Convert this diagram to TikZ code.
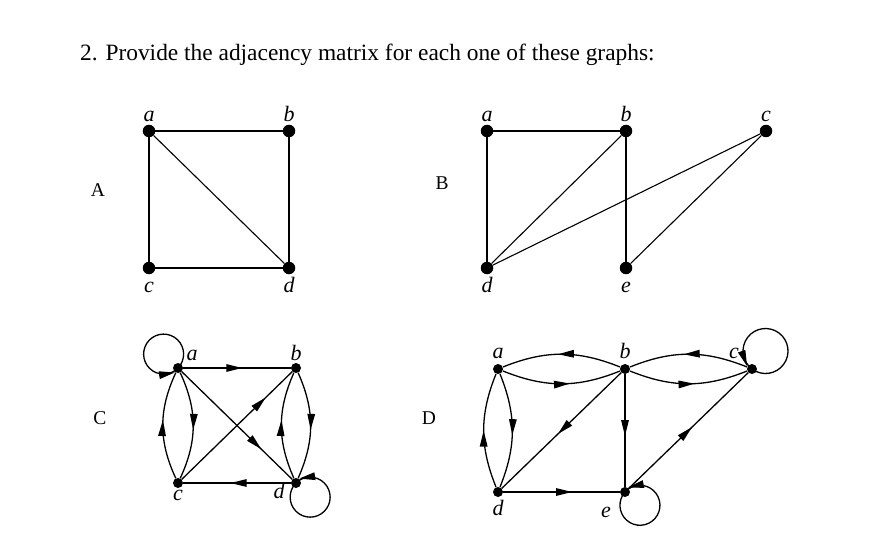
\documentclass[tikz,border=0pt]{standalone}
\usepackage{fontspec}
\setmainfont{Liberation Serif}
\usetikzlibrary{arrows.meta,decorations.markings}
\begin{document}
\begin{tikzpicture}[x=1pt,y=1pt,
 dot/.style={circle,fill=black,inner sep=0pt,minimum size=12.5pt},
 sdot/.style={circle,fill=black,inner sep=0pt,minimum size=10pt},
 lbl/.style={font=\fontsize{22}{22}\selectfont\itshape,anchor=base,inner sep=0pt},
 gname/.style={font=\fontsize{19.5}{20}\selectfont,inner sep=0pt},
 edgeA/.style={line width=1.1pt},
 edgeC/.style={line width=1.3pt},
 arr/.style={postaction={decorate,decoration={markings,mark=at position #1 with {\arrow{Triangle[length=16pt,width=7.5pt]}}}}},
 larr/.style={postaction={decorate,decoration={markings,mark=at position #1 with {\pgftransformxshift{8pt}\arrow{Triangle[length=16pt,width=7.5pt]}}}}},
]
\fill[white] (0,0) rectangle (885,555);
\useasboundingbox (0,0) rectangle (885,555);

\node[anchor=base west,font=\fontsize{23.4}{24}\selectfont,inner sep=0pt] (title) at (80,494) {2. Provide the adjacency matrix for each one of these graphs:};

% graph names
\node[gname] (nA) at (98,365) {A};
\node[gname] (nB) at (442,371.5) {B};
\node[gname] (nC) at (100,137) {C};
\node[gname] (nD) at (429,137) {D};

% Graph A
\node[dot] (Aa) at (149,424) {};
\node[dot] (Ab) at (289,424) {};
\node[dot] (Ac) at (149,287) {};
\node[dot] (Ad) at (289,287) {};
\node[lbl] (Ala) at (149,433) {a};
\node[lbl] (Alb) at (289,433) {b};
\node[lbl] (Alc) at (149,263) {c};
\node[lbl] (Ald) at (289,263) {d};
\draw[edgeA] (Aa) -- (Ab);
\draw[edgeA] (Aa) -- (Ac);
\draw[edgeA] (Aa) -- (Ad);
\draw[edgeA] (Ab) -- (Ad);
\draw[edgeA] (Ac) -- (Ad);

% Graph B
\node[dot] (Ba) at (487,424) {};
\node[dot] (Bb) at (626,424) {};
\node[dot] (Bc) at (766,424) {};
\node[dot] (Bd) at (487,287) {};
\node[dot] (Be) at (626,287) {};
\node[lbl] (Bla) at (487,433) {a};
\node[lbl] (Blb) at (626,433) {b};
\node[lbl] (Blc) at (766,433) {c};
\node[lbl] (Bld) at (487,263) {d};
\node[lbl] (Ble) at (626,263) {e};
\draw[edgeA] (Ba) -- (Bb);
\draw[edgeA] (Ba) -- (Bd);
\draw[edgeA] (Bb) -- (Bd);
\draw[edgeA] (Bb) -- (Be);
\draw[edgeA] (Bc) -- (Bd);
\draw[edgeA] (Bc) -- (Be);

% Graph C
\node[sdot] (Ca) at (178,187) {};
\node[sdot] (Cb) at (296,187) {};
\node[sdot] (Cc) at (178,72) {};
\node[sdot] (Cd) at (296,72) {};
\node[lbl] (Cla) at (192,195) {a};
\node[lbl] (Clb) at (296,195) {b};
\node[lbl] (Clc) at (178,55) {c};
\node[lbl] (Cld) at (279,57) {d};
\draw[edgeC,arr=0.55] (Ca) -- (Cb);
\draw[edgeC,arr=0.72] (Ca) -- (Cd);
\draw[edgeC,arr=0.76] (Cc) -- (Cb);
\draw[edgeC,arr=0.56] (Cd) -- (Cc);
\draw[edgeC,arr=0.54] (Ca) to[bend left=25] (Cc);
\draw[edgeC,arr=0.55] (Cc) to[bend left=25] (Ca);
\draw[edgeC,arr=0.54] (Cb) to[bend left=24] (Cd);
\draw[edgeC,arr=0.55] (Cd) to[bend left=24] (Cb);
\draw[edgeC,larr=-12.6pt] (Ca) arc[start angle=-44,end angle=316,radius=20];
\draw[edgeC,larr=-12.6pt] (Cd) arc[start angle=135,end angle=495,radius=20];

% Graph D
\node[sdot] (Da) at (498,186) {};
\node[sdot] (Db) at (625,186) {};
\node[sdot] (Dc) at (752,186) {};
\node[sdot] (Dd) at (498,63) {};
\node[sdot] (De) at (625,63) {};
\node[lbl] (Dla) at (498,197) {a};
\node[lbl] (Dlb) at (625,197) {b};
\node[lbl] (Dlc) at (734,197) {c};
\node[lbl] (Dld) at (498,40) {d};
\node[lbl] (Dle) at (606,38) {e};
\draw[edgeC,arr=0.53] (Db) to[bend right=22] (Da);
\draw[edgeC,arr=0.57] (Da) to[bend right=22] (Db);
\draw[edgeC,arr=0.54] (Dc) to[bend right=22] (Db);
\draw[edgeC,arr=0.55] (Db) to[bend right=22] (Dc);
\draw[edgeC,arr=0.5] (Dd) to[bend left=22] (Da);
\draw[edgeC,arr=0.54] (Da) to[bend left=22] (Dd);
\draw[edgeC,arr=0.53] (Db) -- (Dd);
\draw[edgeC,arr=0.55] (Db) -- (De);
\draw[edgeC,arr=0.59] (Dd) -- (De);
\draw[edgeC,arr=0.53] (De) -- (Dc);
\draw[edgeC,larr=-13pt] (Dc) arc[start angle=233.1,end angle=593.1,radius=22.5];
\draw[edgeC,larr=-12.6pt] (De) arc[start angle=138.4,end angle=498.4,radius=20];
\end{tikzpicture}
\end{document}
